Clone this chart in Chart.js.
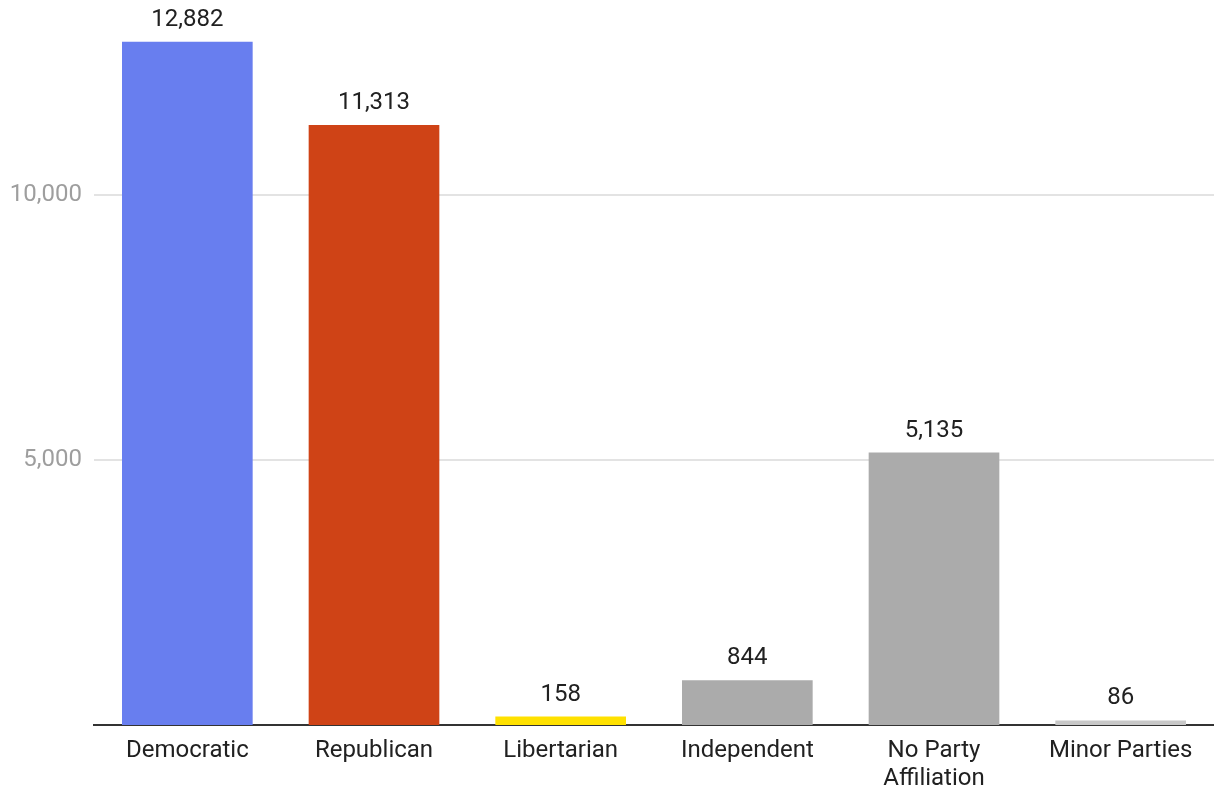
<!DOCTYPE html>
<html lang="en">
<head>
    <meta charset="UTF-8">
    <title>Party Registration</title>
    <script src="https://cdn.jsdelivr.net/npm/chart.js@4.4.0/dist/chart.umd.js"></script>
    <style>
        body { margin: 0; background: #fff; }
        #wrap { width: 1214px; height: 791px; }
    </style>
</head>
<body>
    <div id="wrap"><canvas id="partyChart" width="1214" height="791"></canvas></div>

    <script>
        // Chart data
        const parties = ['Democratic', 'Republican', 'Libertarian', 'Independent', ['No Party', 'Affiliation'], 'Minor Parties'];
        const voters = [12882, 11313, 158, 844, 5135, 86];
        const barColors = ['#687eef', '#cf4316', '#ffe100', '#ababab', '#ababab', '#c8c8c8'];
        const yTicks = [5000, 10000];

        const fmt = v => v.toLocaleString('en-US');

        // Draw the value above each bar
        const valueLabels = {
            id: 'valueLabels',
            afterDatasetsDraw(chart) {
                const ctx = chart.ctx;
                const meta = chart.getDatasetMeta(0);
                ctx.save();
                ctx.font = '24px Roboto';
                ctx.fillStyle = '#212121';
                ctx.textAlign = 'center';
                ctx.textBaseline = 'alphabetic';
                meta.data.forEach((bar, i) => {
                    ctx.fillText(fmt(voters[i]), bar.x, bar.y - 16);
                });
                ctx.restore();
            }
        };

        new Chart(document.getElementById('partyChart'), {
            type: 'bar',
            data: {
                labels: parties,
                datasets: [{
                    data: voters,
                    backgroundColor: barColors,
                    categoryPercentage: 0.7,
                    barPercentage: 1.0
                }]
            },
            options: {
                responsive: false,
                animation: false,
                layout: { padding: { top: 10, left: 0, right: -4, bottom: 0 } },
                plugins: {
                    legend: { display: false },
                    tooltip: { enabled: false }
                },
                scales: {
                    x: {
                        afterFit: axis => { axis.height = 66; },
                        grid: { display: false, drawTicks: false },
                        border: { display: true, color: '#333', width: 2 },
                        ticks: {
                            color: '#212121',
                            font: { family: 'Roboto', size: 24, lineHeight: 1.17 },
                            padding: 12,
                            maxRotation: 0
                        }
                    },
                    y: {
                        min: 0,
                        max: 13170,
                        afterBuildTicks: axis => { axis.ticks = yTicks.map(v => ({ value: v })); },
                        afterFit: axis => { axis.width = 94; },
                        grid: { color: '#e3e3e3', lineWidth: 2, drawTicks: false },
                        border: { display: false },
                        ticks: {
                            color: '#9e9e9e',
                            font: { family: 'Roboto', size: 24 },
                            padding: 12,
                            callback: v => fmt(v)
                        }
                    }
                }
            },
            plugins: [valueLabels]
        });
    </script>
</body>
</html>
